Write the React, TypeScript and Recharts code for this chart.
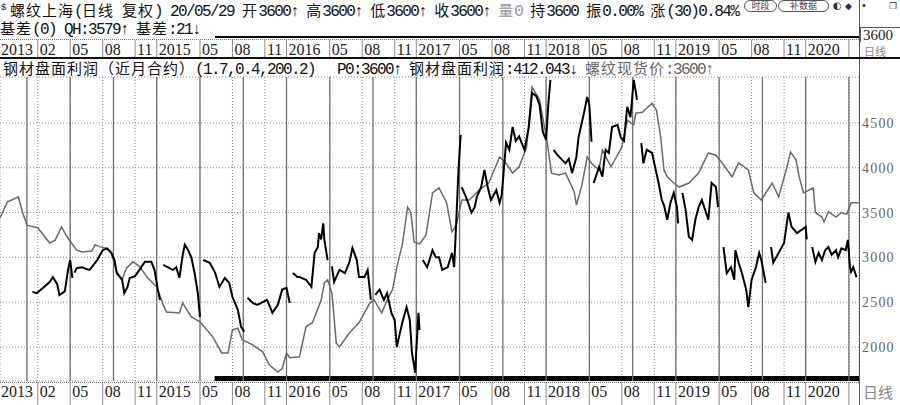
import React from "react";
import {
  LineChart,
  Line,
  XAxis,
  YAxis,
  CartesianGrid,
  ReferenceLine,
  ReferenceArea,
} from "recharts";

// months counted from 2014-01 (0 = Jan 2014)
const monthDomain = [-2.49, 76.93];
const tickMonths = [-2.49, 1, 4, 7, 10, 12, 16, 19, 22, 24, 28, 31, 34, 36, 40, 43, 46, 48, 52, 55, 58, 60, 64, 67, 70, 72, 76];
const tickLabels = ["2013", "02", "05", "08", "11", "2015", "05", "08", "11", "2016", "05", "08", "11", "2017", "05", "08", "11", "2018", "05", "08", "11", "2019", "05", "08", "11", "2020", ""];
const rolloverMonths = [0, 4, 8, 12, 16, 20, 24, 28, 32, 36, 40, 44, 48, 52, 56, 60, 64, 68, 72, 76];
const priceTicks = [2000, 2500, 3000, 3500, 4000, 4500];
const priceDomain = [1620, 5013];
const sessionStart = 17.35;

// 螺纹现货价
const spotPrice: [number, number][] = [
  [-2.5, 3440], [-1.8, 3620], [-1.4, 3640], [-0.8, 3675], [-0.4, 3500], [0, 3360], [1.0, 3330], [2.1, 3160],
  [2.6, 3190], [3.2, 3340], [3.7, 3230], [4.6, 3080], [5.1, 3060], [6.0, 3070], [6.3, 3140], [6.7, 3120],
  [7.4, 3100], [7.8, 3050], [8.3, 2840], [8.8, 2750], [9.2, 2880], [9.8, 2950], [10.4, 2900], [11.1, 2780],
  [12.0, 2670], [12.6, 2470], [12.9, 2390], [14.1, 2380], [14.4, 2490], [15.2, 2335], [16.0, 2280], [17.2, 2110],
  [18.0, 1933], [18.6, 1933], [19.0, 2190], [19.5, 2210], [19.9, 2080], [20.9, 2020], [21.8, 1945], [22.4, 1800],
  [23.2, 1720], [23.6, 1760], [24.0, 1933], [24.3, 1880], [25.2, 1890], [25.8, 2225], [26.4, 2270], [27.2, 2520],
  [27.5, 2715], [27.8, 2750], [28.2, 2600], [28.6, 2045], [28.9, 2000], [29.8, 2155], [30.7, 2270], [31.7, 2490],
  [32.1, 2525], [32.8, 2380], [33.3, 2520], [33.8, 2640], [34.2, 2890], [34.7, 3140], [35.2, 3560], [35.5, 3495],
  [35.8, 3170], [36.3, 3150], [36.9, 3250], [37.5, 3720], [38.1, 3775], [38.8, 3610], [39.3, 3285], [39.7, 3360],
  [40.2, 3640], [40.9, 3640], [41.8, 3750], [42.7, 3830], [43.7, 4120], [44.3, 4050], [44.9, 3940], [45.5, 4010],
  [46.2, 4230], [46.7, 4900], [47.4, 4760], [48.1, 4290], [48.5, 3940], [49.2, 3920], [49.8, 3940], [50.6, 3730],
  [50.8, 3585], [51.3, 3800], [51.8, 4120], [52.2, 4050], [52.9, 3975], [53.2, 4200], [54.0, 4010], [54.5, 4120],
  [55.0, 4230], [55.5, 4530], [56.1, 4480], [56.3, 4610], [56.9, 4620], [57.8, 4720], [58.2, 4645], [58.6, 4340],
  [58.9, 3975], [59.2, 3900], [59.8, 3830], [60.3, 3785], [61.2, 3830], [62.1, 3940], [63.0, 4165], [63.7, 4140],
  [64.2, 4065], [65.2, 3900], [65.8, 4055], [66.7, 3975], [67.2, 3720], [67.9, 3640], [68.9, 3830], [69.5, 3675],
  [70.2, 3975], [70.6, 4175], [71.1, 4090], [71.4, 3900], [71.8, 3720], [72.7, 3775], [72.9, 3500], [73.5, 3450],
  [73.7, 3395], [74.1, 3510], [74.8, 3450], [75.3, 3500], [75.8, 3480], [76.2, 3610], [76.9, 3610],
];

// 钢材盘面利润 (one run per contract)
const profitRuns: [number, number][][] = [
  [[0.5, 2615], [0.9, 2600], [1.5, 2660], [2.1, 2725], [2.4, 2780], [2.8, 2700], [3.0, 2580], [3.5, 2620], [3.8, 2860], [4.0, 2970], [4.2, 2770]],
  [[4.4, 2830], [4.6, 2880], [5.1, 2890], [5.5, 2870], [5.8, 2860], [6.5, 2970], [7.0, 3080], [7.4, 3100], [7.8, 3050], [8.1, 2970], [8.3, 2825], [8.8, 2750], [9.0, 2600], [9.3, 2670], [9.5, 2770], [10.0, 2790], [10.4, 2860], [10.9, 2950], [11.5, 2950], [11.8, 2860], [12.1, 2640], [12.3, 2525]],
  [[12.6, 2915], [13.0, 2890], [13.5, 2860], [13.8, 2890], [14.1, 2770], [14.4, 3025], [14.6, 3140], [14.9, 3080], [15.2, 3000], [15.5, 2825], [15.8, 2600], [16.0, 2335]],
  [[16.3, 2970], [16.9, 2940], [17.4, 2830], [17.8, 2670], [18.3, 2770], [18.7, 2715], [19.0, 2560], [19.5, 2415], [19.8, 2225], [20.1, 2170]],
  [[20.4, 2550], [20.9, 2490], [21.3, 2470], [21.8, 2500], [22.2, 2525], [22.7, 2380], [23.2, 2470], [23.6, 2640], [24.0, 2660], [24.3, 2490]],
  [[24.6, 2825], [25.0, 2780], [25.2, 2780], [25.8, 2750], [26.3, 2670], [26.6, 3050], [26.9, 3115], [27.0, 3270], [27.2, 3200], [27.4, 3380], [27.5, 3195], [27.8, 2970]],
  [[28.2, 2900], [28.4, 2725], [28.9, 2860], [29.4, 2825], [29.8, 2940], [30.1, 3105], [30.5, 2970], [30.7, 2780], [31.2, 2780], [31.5, 2860], [31.8, 2525]],
  [[32.2, 2580], [32.6, 2640], [33.0, 2525], [33.3, 2600], [33.7, 2380], [34.0, 2300], [34.2, 2000], [34.4, 2110], [34.7, 2270], [35.1, 2445], [35.4, 2300], [35.6, 1933], [35.9, 1710], [36.0, 1960], [36.2, 2380], [36.3, 2190]],
  [[36.6, 2970], [37.0, 2890], [37.5, 3080], [37.8, 3000], [38.1, 3000], [38.4, 2860], [38.9, 2890], [39.3, 3050], [39.5, 2890], [39.7, 3420], [39.9, 3975], [40.1, 4365]],
  [[40.2, 3785], [40.5, 3700], [40.7, 3640], [41.1, 3500], [41.4, 3560], [41.6, 3675], [42.0, 3785], [42.3, 3975], [42.6, 3785], [42.9, 3640], [43.4, 3750], [43.7, 3610], [43.9, 3700], [44.3, 4280], [44.6, 4200], [44.9, 4455], [45.2, 4300], [45.5, 4350], [46.0, 4200], [46.4, 4450], [46.7, 4835], [47.1, 4800], [47.4, 4700], [47.7, 4400], [48.0, 4310], [48.2, 4700], [48.4, 4980]],
  [[48.7, 4200], [49.0, 4150], [49.5, 4085], [49.8, 4050], [50.1, 4100], [50.4, 3940], [50.8, 4120], [51.0, 4340], [51.5, 4610], [51.8, 4790], [52.0, 4700], [52.2, 4290]],
  [[52.4, 3830], [52.9, 4010], [53.2, 3900], [53.5, 4200], [53.8, 4165], [54.1, 4455], [54.6, 4480], [54.9, 4340], [55.2, 4300], [55.5, 4680], [55.8, 4565], [56.1, 4980], [56.3, 4845], [56.4, 4757]],
  [[56.8, 4275], [57.0, 4050], [57.3, 4200], [57.8, 4165], [58.2, 3940], [58.4, 3830], [58.7, 3640], [58.9, 3580], [59.2, 3420], [59.5, 3610], [59.8, 3720], [60.1, 3560], [60.2, 3380]],
  [[60.6, 3720], [60.9, 3530], [61.2, 3230], [61.5, 3195], [61.8, 3420], [62.1, 3560], [62.4, 3640], [62.8, 3495], [63.0, 3420], [63.3, 3830], [63.7, 3785], [63.9, 3560]],
  [[64.4, 3115], [64.7, 2825], [65.1, 2890], [65.4, 2750], [65.5, 3080], [65.8, 2940], [66.1, 2825], [66.5, 2640], [66.7, 2445], [67.0, 2750], [67.4, 2890], [67.7, 3050], [67.9, 2970], [68.3, 2715]],
  [[68.8, 3115], [69.0, 2940], [69.5, 3050], [70.0, 3160], [70.4, 3500], [70.7, 3340], [71.2, 3270], [71.6, 3305], [72.0, 3340], [72.1, 3200]],
  [[72.6, 3115], [72.9, 2950], [73.2, 3050], [73.5, 2970], [73.8, 3080], [74.1, 3115], [74.4, 3030], [74.8, 3080], [75.0, 3000], [75.3, 3100], [75.7, 3080], [75.9, 3195], [76.1, 2890], [76.2, 2840], [76.4, 2890], [76.7, 2780]],
];

const toRows = (pts: [number, number][]) => pts.map(([m, v]) => ({ m, v }));

const CJK = /[\u3000-\u9fff\uff00-\uffef]/;

function Mixed({ text }: { text: string }) {
  const parts = text.match(/[\u3000-\u9fff\uff00-\uffef]+|[^\u3000-\u9fff\uff00-\uffef]+/g) ?? [];
  return (
    <>
      {parts.map((p, i) =>
        CJK.test(p) ? (
          <span key={i} style={{ fontFamily: "'Noto Sans CJK SC'", fontSize: 15, letterSpacing: "1px" }}>{p}</span>
        ) : (
          <span key={i} style={{ fontFamily: "'Liberation Mono'", fontSize: 16, letterSpacing: "-1.6px" }}>{p}</span>
        ),
      )}
    </>
  );
}

function TextRow({ left, top, color = "#111", children }: { left: number; top: number; color?: string; children: React.ReactNode }) {
  return (
    <div style={{ position: "absolute", left, top, color, whiteSpace: "pre", lineHeight: "16px" }}>
      {children}
    </div>
  );
}

function labelFor(value: number) {
  const i = tickMonths.indexOf(value);
  return i < 0 ? "" : tickLabels[i];
}

function BottomTick(props: any) {
  const { x, payload } = props;
  const first = payload.value === tickMonths[0];
  const label = labelFor(payload.value);
  return (
    <g>
      {!first && <line x1={x} x2={x} y1={382} y2={405} stroke="#8c8c8c" />}
      {label && (
        <text x={x + (first ? 1 : 2)} y={397} fontFamily="'Liberation Serif'" fontSize={16} fill="#222">
          {label}
        </text>
      )}
    </g>
  );
}

function TopTick(props: any) {
  const { x, payload } = props;
  const first = payload.value === tickMonths[0];
  const label = labelFor(payload.value);
  return (
    <g>
      {!first && <line x1={x} x2={x} y1={40} y2={57} stroke="#8c8c8c" />}
      {label && (
        <text x={x + (first ? 1 : 2)} y={55} fontFamily="'Liberation Serif'" fontSize={16} fill="#222">
          {label}
        </text>
      )}
    </g>
  );
}

function PriceTick(props: any) {
  const { y, payload } = props;
  return (
    <text x={862} y={y + 5} fontFamily="'Liberation Serif'" fontSize={14} letterSpacing={1.2} fill="#666">
      {payload.value}
    </text>
  );
}

const pill: React.CSSProperties = {
  position: "absolute",
  top: 0,
  height: 10,
  border: "1px solid #555",
  borderRadius: 6,
  fontFamily: "'Noto Sans CJK SC'",
  fontSize: 9,
  lineHeight: "10px",
  textAlign: "center",
  color: "#444",
  background: "#fff",
};

export default function App() {
  return (
    <div style={{ position: "relative", width: 900, height: 405, background: "#fff", overflow: "hidden" }}>
      <style>{"body{margin:0}"}</style>
      <LineChart width={900} height={405} margin={{ top: 37, right: 0, bottom: 0, left: 0 }}>
        <CartesianGrid xAxisId="b" stroke="#8a8a8a" strokeDasharray="1 2" />
        <XAxis
          xAxisId="b"
          dataKey="m"
          type="number"
          domain={monthDomain}
          ticks={tickMonths}
          interval={0}
          allowDataOverflow
          height={24}
          axisLine={false}
          tickLine={false}
          tick={BottomTick}
        />
        <XAxis
          xAxisId="t"
          orientation="top"
          dataKey="m"
          type="number"
          domain={monthDomain}
          ticks={tickMonths}
          interval={0}
          allowDataOverflow
          height={40}
          axisLine={false}
          tickLine={false}
          tick={TopTick}
        />
        <YAxis
          orientation="right"
          type="number"
          domain={priceDomain}
          ticks={priceTicks}
          interval={0}
          allowDataOverflow
          width={41}
          axisLine={false}
          tickLine={false}
          tick={PriceTick}
        />
        {rolloverMonths.map((m) => (
          <ReferenceLine key={m} xAxisId="b" x={m} stroke="#6f6f6f" strokeWidth={1.3} />
        ))}
        <Line
          data={toRows(spotPrice)}
          xAxisId="b"
          dataKey="v"
          type="linear"
          stroke="#6a6a6a"
          strokeWidth={1.5}
          dot={false}
          activeDot={false}
          isAnimationActive={false}
        />
        {profitRuns.map((run, i) => (
          <Line
            key={i}
            data={toRows(run)}
            xAxisId="b"
            dataKey="v"
            type="linear"
            stroke="#000"
            strokeWidth={2}
            dot={false}
            activeDot={false}
            isAnimationActive={false}
          />
        ))}
        <ReferenceArea
          xAxisId="b"
          x1={sessionStart}
          x2={monthDomain[1]}
          y1={priceDomain[0]}
          y2={1676}
          fill="#000"
          fillOpacity={1}
          stroke="none"
        />
      </LineChart>

      {/* frame lines */}
      <div style={{ position: "absolute", left: 859, top: 0, width: 1, height: 405, background: "#555" }} />
      <div style={{ position: "absolute", left: 215, top: 36, width: 644, height: 2, background: "#000" }} />
      <div style={{ position: "absolute", left: 0, top: 39, width: 859, borderTop: "1px dotted #777" }} />
      <div style={{ position: "absolute", left: 0, top: 57, width: 900, height: 1.5, background: "#111" }} />
      <div style={{ position: "absolute", left: 0, top: 382, width: 859, borderTop: "1px dotted #777" }} />

      <TextRow left={1} top={0}>
        <span style={{ fontFamily: "'Liberation Mono'", fontSize: 9, verticalAlign: "top" }}>$</span>
      </TextRow>
      <TextRow left={10} top={2}>
        <Mixed text="螺纹上海(日线 复权) 20/05/29 开3600↑ 高3600↑ 低3600↑ 收3600↑ " />
        <span style={{ color: "#999" }}>
          <Mixed text="量0" />
        </span>
        <Mixed text=" 持3600 振0.00% 涨(30)0.84%" />
      </TextRow>
      <div style={{ ...pill, left: 744, width: 31 }}>时段</div>
      <div style={{ ...pill, left: 778, width: 49 }}>补数据</div>
      <div style={{ position: "absolute", left: 833, top: 0, fontFamily: "'DejaVu Sans'", fontSize: 10, lineHeight: "12px", color: "#333" }}>◐</div>
      <div style={{ position: "absolute", left: 845, top: 0, fontFamily: "'DejaVu Sans'", fontSize: 9, lineHeight: "12px", color: "#333" }}>◆</div>
      <div style={{ position: "absolute", left: 861, top: 0, fontFamily: "'DejaVu Sans'", fontSize: 10, lineHeight: "12px", color: "#333" }}>•</div>
      <div style={{ position: "absolute", left: 889, top: 0, fontFamily: "'DejaVu Sans'", fontSize: 9, lineHeight: "12px", color: "#333" }}>❐</div>

      <TextRow left={0} top={20}>
        <Mixed text="基差(0) QH:3579↑ 基差:21↓" />
      </TextRow>

      <div style={{ position: "absolute", left: 860, top: 27, width: 38, height: 14, borderTop: "1px solid #555", borderLeft: "1px solid #555", fontFamily: "'Liberation Serif'", fontSize: 15, lineHeight: "14px", color: "#222", paddingLeft: 2, background: "#fff" }}>3600</div>
      <div style={{ position: "absolute", left: 864, top: 46, color: "#888", fontFamily: "'Noto Sans CJK SC'", fontSize: 11, lineHeight: "11px", whiteSpace: "pre" }}>日线</div>

      <TextRow left={3} top={60}>
        <Mixed text="钢材盘面利润（近月合约）(1.7,0.4,200.2)" />
      </TextRow>
      <TextRow left={337} top={60}>
        <Mixed text="P0:3600↑ 钢材盘面利润:412.043↓ " />
        <span style={{ color: "#666" }}>
          <Mixed text="螺纹现货价:3600↑" />
        </span>
      </TextRow>

      <TextRow left={863} top={384} color="#888">
        <span style={{ fontFamily: "'Noto Sans CJK SC'", fontSize: 15 }}>日线</span>
      </TextRow>
    </div>
  );
}
